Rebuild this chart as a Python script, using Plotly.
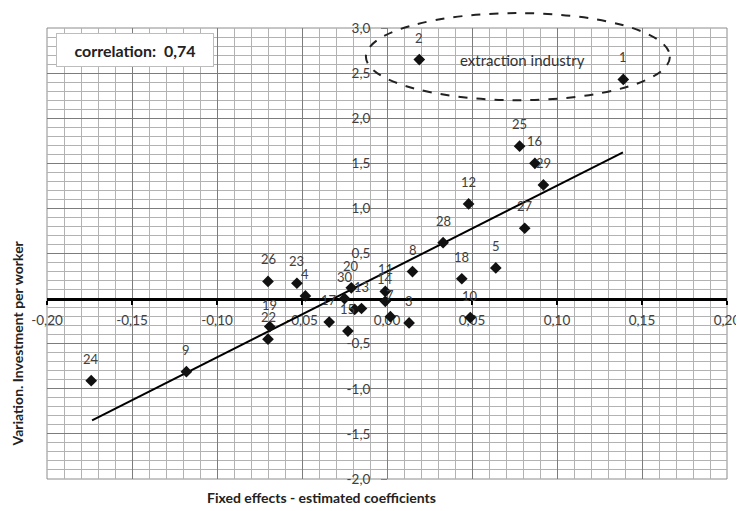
import plotly.graph_objects as go

# Data
point_labels = ["1", "2", "3", "4", "5", "7", "8", "9", "10", "11", "12", "13", "14", "15",
                "16", "17", "18", "19", "20", "", "22", "23", "24", "25", "26", "27", "28",
                "29", "30"]
fixed_effects = [0.139, 0.019, 0.013, -0.048, 0.064, 0.002, 0.015, -0.118, 0.049, -0.001,
                 0.048, -0.015, -0.001, -0.023, 0.087, -0.034, 0.044, -0.069, -0.021, -0.019,
                 -0.070, -0.053, -0.174, 0.078, -0.070, 0.081, 0.033, 0.092, -0.025]
investment_var = [2.43, 2.65, -0.27, 0.03, 0.34, -0.20, 0.30, -0.81, -0.21, 0.08,
                  1.05, -0.11, -0.03, -0.36, 1.50, -0.26, 0.22, -0.31, 0.12, -0.12,
                  -0.45, 0.17, -0.91, 1.69, 0.19, 0.78, 0.62, 1.26, 0.00]

trend_x = [-0.1735, 0.1388]
trend_y = [-1.35, 1.62]

x_ticks = [-0.20, -0.15, -0.10, -0.05, 0.00, 0.05, 0.10, 0.15, 0.20]
x_tick_text = ["-0,20", "-0,15", "-0,10", "-0,05", "0,00", "0,05", "0,10", "0,15", "0,20"]
y_ticks = [-2.0, -1.5, -1.0, -0.5, 0.5, 1.0, 1.5, 2.0, 2.5, 3.0]
y_tick_text = ["-2,0", "-1,5", "-1,0", "-0,5", "0,5", "1,0", "1,5", "2,0", "2,5", "3,0"]

FONT = "Lato"
TICK_COLOR = "#404040"
MAJOR_GRID = "#7c7c7c"
MINOR_GRID = "#b2b2b2"

fig = go.Figure()

fig.add_trace(go.Scatter(
    x=trend_x, y=trend_y, mode="lines",
    line=dict(color="black", width=2),
    hoverinfo="skip", showlegend=False,
))

fig.add_trace(go.Scatter(
    x=fixed_effects, y=investment_var, mode="markers",
    marker=dict(symbol="diamond", size=9, color="#111111"),
    text=point_labels, hovertemplate="%{text}: %{x:.3f}, %{y:.2f}<extra></extra>",
    showlegend=False,
))

# point labels, placed above each marker like the Excel data labels
for lbl, x, y in zip(point_labels, fixed_effects, investment_var):
    if lbl:
        fig.add_annotation(x=x, y=y, text=lbl, showarrow=False, yshift=22,
                           xanchor="center", yanchor="middle",
                           font=dict(family=FONT, size=13, color=TICK_COLOR))

fig.add_annotation(x=0.0796, y=2.645, text="extraction industry", showarrow=False,
                   xanchor="center", yanchor="middle",
                   font=dict(family=FONT, size=15, color="#333333"))

fig.add_annotation(xref="paper", yref="paper", x=0.13, y=0.952,
                   xanchor="center", yanchor="middle",
                   text="<b>correlation:  0,74</b>", showarrow=False,
                   font=dict(family=FONT, size=16, color="#222222"),
                   bgcolor="white", bordercolor="#bdbdbd", borderwidth=1,
                   width=152, height=28, borderpad=2)

# axis titles
fig.add_annotation(xref="paper", yref="paper", x=0.403, y=-0.042,
                   xanchor="center", yanchor="middle",
                   text="<b>Fixed effects - estimated coefficients</b>", showarrow=False,
                   font=dict(family=FONT, size=14, color="#222222"))
fig.add_annotation(xref="paper", yref="paper", x=-0.043, y=0.30, textangle=-90,
                   xanchor="center", yanchor="middle",
                   text="<b>Variation. Investment per worker</b>", showarrow=False,
                   font=dict(family=FONT, size=14, color="#222222"))

# dashed ellipse round the extraction industry points
fig.add_shape(type="circle", xref="paper", yref="paper",
              x0=0.469, x1=0.916, y0=0.840, y1=1.033,
              line=dict(color="#222222", width=2, dash="dash"))

# plot area border
fig.add_shape(type="rect", xref="paper", yref="paper", x0=0, x1=1, y0=0, y1=1,
              line=dict(color="#8c8c8c", width=1), layer="below")

# page body has an 8px margin, so the figure is a little smaller than the window
fig.update_layout(
    width=736, height=503,
    margin=dict(l=39, r=17, t=20, b=32),
    paper_bgcolor="white", plot_bgcolor="white",
    showlegend=False,
    xaxis=dict(
        range=[-0.2, 0.2], anchor="free", position=0.4, automargin=False,
        tickvals=x_ticks, ticktext=x_tick_text,
        ticks="outside", ticklen=4, tickwidth=1.5, tickcolor="black",
        ticklabelstandoff=4,
        showline=True, linecolor="black", linewidth=3,
        showgrid=True, gridcolor=MAJOR_GRID, gridwidth=1,
        minor=dict(dtick=0.01, tick0=0, showgrid=True, gridcolor=MINOR_GRID, gridwidth=1),
        zeroline=False, layer="below traces",
        tickfont=dict(family=FONT, size=13.5, color=TICK_COLOR),
    ),
    yaxis=dict(
        range=[-2, 3], anchor="free", position=0.5, automargin=False,
        tickvals=y_ticks, ticktext=y_tick_text,
        ticks="outside", ticklen=6, tickcolor="#7f7f7f",
        ticklabelstandoff=8,
        showline=True, linecolor="#7f7f7f", linewidth=1,
        showgrid=True, gridcolor=MAJOR_GRID, gridwidth=1,
        minor=dict(dtick=0.1, tick0=0, showgrid=True, gridcolor=MINOR_GRID, gridwidth=1),
        zeroline=False, layer="below traces",
        tickfont=dict(family=FONT, size=13.5, color=TICK_COLOR),
    ),
)

fig.write_html("out.html")
